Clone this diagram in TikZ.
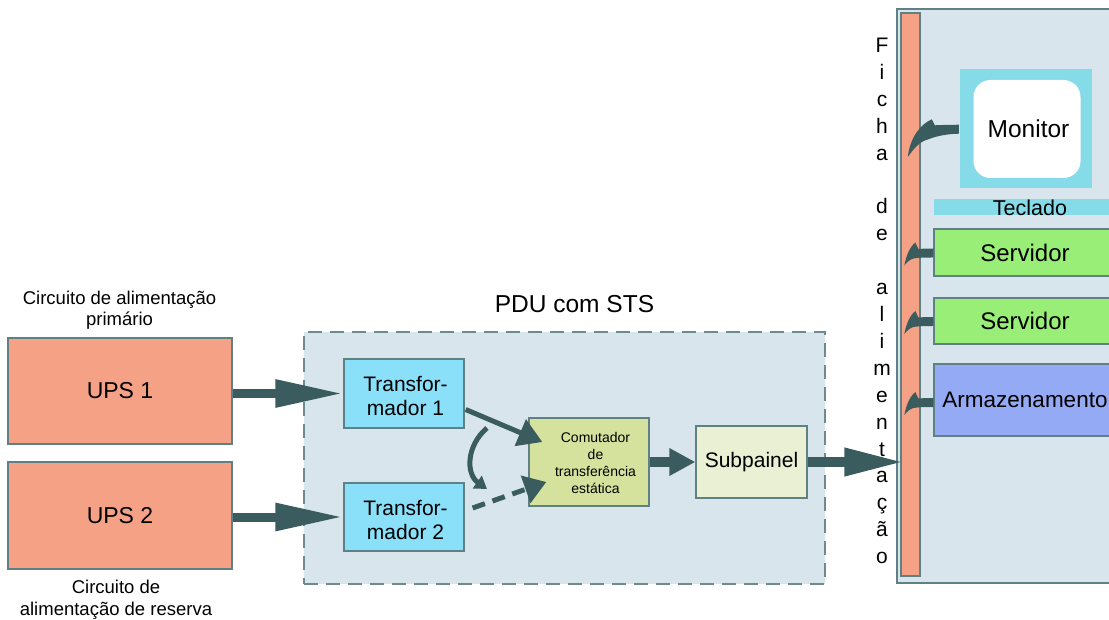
\documentclass[tikz,border=0pt]{standalone}
\usepackage{fontspec}
\setmainfont{Liberation Sans}
\usetikzlibrary{arrows.meta,calc}

\definecolor{upsfill}{HTML}{F4A185}
\definecolor{edgec}{HTML}{5F8184}
\definecolor{dashc}{HTML}{6E8A8C}
\definecolor{arrowc}{HTML}{3B5C5E}
\definecolor{panel}{HTML}{D9E5EC}
\definecolor{trafo}{HTML}{8ADFF9}
\definecolor{stsfill}{HTML}{D4E29D}
\definecolor{subfill}{HTML}{EAF0D4}
\definecolor{moncyan}{HTML}{86DBE8}
\definecolor{server}{HTML}{99EE77}
\definecolor{storage}{HTML}{95AAF5}

\newcommand{\fs}[2]{\fontsize{#1}{#2}\selectfont}
% small curved block arrow entering the power strip, drawn from a device's west side
\newcommand{\plugarrow}[1]{%
  \fill[arrowc, shift={(#1)}] (0,-4) .. controls (-6,-4) and (-11,-3.8) .. (-15,-3.5)
    -- (-18,-10) .. controls (-23,-6) and (-27,2) .. (-29,13)
    .. controls (-26,9) and (-23,7) .. (-20,6) .. controls (-14,5) and (-8,5) .. (0,5) -- cycle;}

\begin{document}
\begin{tikzpicture}[x=1pt,y=-1pt,
  box/.style={draw=edgec, line width=1.3pt, inner sep=0pt, align=center},
  plain/.style={inner sep=0pt, align=center},
  fatarrow/.style={draw=arrowc, line width=#1},
  fatarrow/.default=10pt,
  thinarrow/.style={draw=arrowc, line width=5pt}
]
\clip (0,0) rectangle (1109,620);
\useasboundingbox (0,0) rectangle (1109,620);

% UPS units and their circuit captions
\node[box, fill=upsfill, minimum width=224pt, minimum height=106pt, font=\fs{23}{27}] (ups1) at (120,391) {UPS 1};
\node[box, fill=upsfill, minimum width=224pt, minimum height=107pt, font=\fs{23}{27}] (ups2) at (120,515.5) {UPS 2};
\node[plain, anchor=south, font=\fs{18.5}{21.5}] (cap1) at (119.5,330) {Circuito de alimentação\\primário};
\node[plain, anchor=north, font=\fs{18.5}{22}] (cap2) at (116,580) {Circuito de\\alimentação de reserva};

% PDU enclosure
\node[draw=dashc, line width=1.5pt, dash pattern=on 14pt off 8pt, fill=panel, minimum width=521pt, minimum height=252pt, inner sep=0pt] (pdu) at (564.5,458) {};
\node[plain, anchor=base, font=\fs{24.5}{28}] (pdulabel) at (574.5,313) {PDU com STS};

\node[box, fill=trafo, minimum width=120pt, minimum height=69pt, font=\fs{21}{24}] (t1) at (404,393.5) {\rule{0pt}{21pt}\hspace*{3pt}Transfor-\\\hspace*{3pt}mador 1};
\node[box, fill=trafo, minimum width=120pt, minimum height=68pt, font=\fs{21}{24}] (t2) at (404,517) {\rule{0pt}{21pt}\hspace*{3pt}Transfor-\\\hspace*{3pt}mador 2};
\node[box, fill=stsfill, minimum width=120pt, minimum height=88pt] (sts) at (589,462) {};
\node[plain, font=\fs{14}{16.7}] (ststext) at (595.5,463) {Comutador\\de\\transferência\\estática};
\node[box, fill=subfill, minimum width=111pt, minimum height=72pt, font=\fs{21}{24}] (subp) at (751.5,462) {Subpainel};

% Rack
\node[draw=edgec, line width=1.3pt, fill=panel, minimum width=223pt, minimum height=574pt, inner sep=0pt] (rack) at (1008.5,296) {};
\node[draw=edgec, line width=1.3pt, fill=upsfill, minimum width=19pt, minimum height=563pt, inner sep=0pt] (strip) at (910.5,294.5) {};
\foreach \ch [count=\k from 0] in {F,i,c,h,a,{},d,e,{},a,l,i,m,e,n,t,a,ç,ã,o}
  \node[plain, anchor=base, font=\fs{21}{24}] (ficha\k) at (882,52.5+\k*26.9) {\ch};

\node[fill=moncyan, minimum width=132pt, minimum height=119pt, inner sep=0pt] (monframe) at (1026,128.5) {};
\node[fill=white, rounded corners=17pt, minimum width=107pt, minimum height=98pt, inner sep=0pt, font=\fs{24.5}{28}] (monitor) at (1027,129) {\hspace*{3pt}Monitor};
\node[fill=moncyan, minimum width=186pt, minimum height=16pt, inner sep=0pt] (kbd) at (1027,207) {};
\node[plain, anchor=base, font=\fs{21.5}{24}] (kbdtext) at (1030,216) {Teclado};
\node[box, fill=server, minimum width=182pt, minimum height=47pt, font=\fs{24}{28}] (srv1) at (1025,252.5) {Servidor};
\node[box, fill=server, minimum width=182pt, minimum height=46pt, font=\fs{24}{28}] (srv2) at (1025,321) {Servidor};
\node[box, fill=storage, minimum width=182pt, minimum height=72pt, font=\fs{22.5}{26}] (stor) at (1025,400) {Armazenamento};

% Power flow through the PDU
\draw[fatarrow=9pt, -{Triangle[length=68pt,width=26pt]}] (ups1.east |- t1.west) -- (t1.west);
\draw[fatarrow=9pt, -{Triangle[length=68pt,width=26pt]}] (ups2.east |- t2.west) -- (t2.west);
\draw[thinarrow, -{Triangle[length=24pt,width=28pt]}] ($(t1.east)+(1,16)$) -- ($(sts.west)+(14,-20)$);
\draw[thinarrow, dash pattern=on 13pt off 8pt, -{Triangle[length=22pt,width=28pt]}] ($(t2.east)+(8,-9)$) -- ($(sts.west)+(18,20)$);
\coordinate (swA) at (487,428);
\coordinate (swB) at (487,489);
\draw[thinarrow, -{Triangle[length=12pt,width=15pt]}] (swA) .. controls (466,446) and (466,474) .. (swB);
\draw[fatarrow=10pt, -{Triangle[length=26pt,width=26pt]}] (sts.east) -- (subp.west);
\draw[fatarrow=10pt, -{Triangle[length=60pt,width=26pt]}] (subp.east) -- ($(strip.west |- subp.east)+(4,0)$);

% Equipment plugged into the power strip
\fill[arrowc, shift={(monframe.west)}] (-1,-3.8) .. controls (-10,-3.6) and (-20,-3.5) .. (-25,-3.2)
  -- (-28,-9.2) .. controls (-40,-4) and (-50,10) .. (-52,28.5)
  .. controls (-46,20) and (-40,13) .. (-32,11) .. controls (-22,7) and (-12,5.5) .. (-1,5.2) -- cycle;
\plugarrow{srv1.west}
\plugarrow{srv2.west}
\plugarrow{$(stor.west)+(0,2)$}
\end{tikzpicture}
\end{document}
